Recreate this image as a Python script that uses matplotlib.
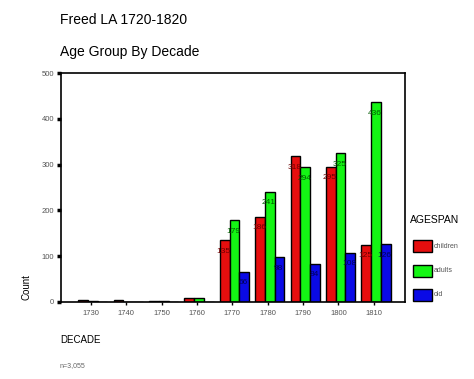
import matplotlib
matplotlib.use("Agg")
import matplotlib.pyplot as plt
import numpy as np
from matplotlib.patches import Rectangle

plt.rcParams['font.family'] = ['Liberation Sans', 'DejaVu Sans']

decades = ['1730', '1740', '1750', '1760', '1770', '1780', '1790', '1800', '1810']
children = [4, 5, 3, 9, 135, 186, 318, 295, 125]
adults = [3, 1, 2, 8, 179, 241, 294, 325, 436]
old = [1, 1, 1, 1, 66, 98, 84, 108, 126]
series_names = ['children', 'adults', 'old']
yticks = [0, 100, 200, 300, 400, 500]

colors = ['#e60e0e', '#14f514', '#0a0ae6']
label_colors = ['#6a0000', '#005a00', '#00005a']

W, H = 474, 379
fig = plt.figure(figsize=(W / 100, H / 100), dpi=100)
ax = fig.add_axes([61 / W, 1 - 302 / H, (405 - 61) / W, (302 - 73) / H])

x = np.arange(len(decades))
bw = 0.275
for i, (vals, c, lc) in enumerate(zip([children, adults, old], colors, label_colors)):
    xs = x + (i - 1) * bw + 0.06
    ax.bar(xs, vals, width=bw, color=c, edgecolor='black', linewidth=1.0, zorder=2)
    for xx, v in zip(xs, vals):
        if v >= 20:
            ax.text(xx - 0.03, v - 24, str(v), ha='center', va='center', fontsize=6,
                    color=lc, zorder=3)

ax.set_xlim(-0.84, 8.88)
ax.set_ylim(0, 500)
ax.set_xticks(x)
ax.set_xticklabels(decades, fontsize=5.5, color='#555555')
ax.set_yticks(yticks)
ax.set_yticklabels([str(t) for t in yticks], fontsize=5.5, color='#555555')
ax.tick_params(axis='y', direction='out', length=3, width=2.5, color='black', pad=2)
ax.tick_params(axis='x', direction='out', length=2, width=1, color='black', pad=4)
for s in ax.spines.values():
    s.set_linewidth(1.2)
    s.set_color('black')

fig.text(60 / W, 1 - 20 / H, 'Freed LA 1720-1820', fontsize=10, va='center', ha='left')
fig.text(60 / W, 1 - 52 / H, 'Age Group By Decade', fontsize=10, va='center', ha='left')
fig.text(27 / W, 1 - 287 / H, 'Count', fontsize=7, rotation=90, va='center', ha='center')
fig.text(60 / W, 1 - 340 / H, 'DECADE', fontsize=7, va='center', ha='left')
fig.text(60 / W, 1 - 366 / H, 'n=3,055', fontsize=5, va='center', ha='left', color='#666666')

fig.text(410 / W, 1 - 220 / H, 'AGESPAN', fontsize=7.5, va='center', ha='left')
for i, (name, c) in enumerate(zip(series_names, colors)):
    yc = 246 + i * 24.5
    fig.patches.append(Rectangle((413 / W, 1 - (yc + 6) / H), 19 / W, 12 / H,
                                 transform=fig.transFigure, facecolor=c,
                                 edgecolor='black', linewidth=1.0))
    fig.text(434 / W, 1 - yc / H, name, fontsize=5, va='center', ha='left', color='#555555')

fig.savefig('out.png', dpi=100)
